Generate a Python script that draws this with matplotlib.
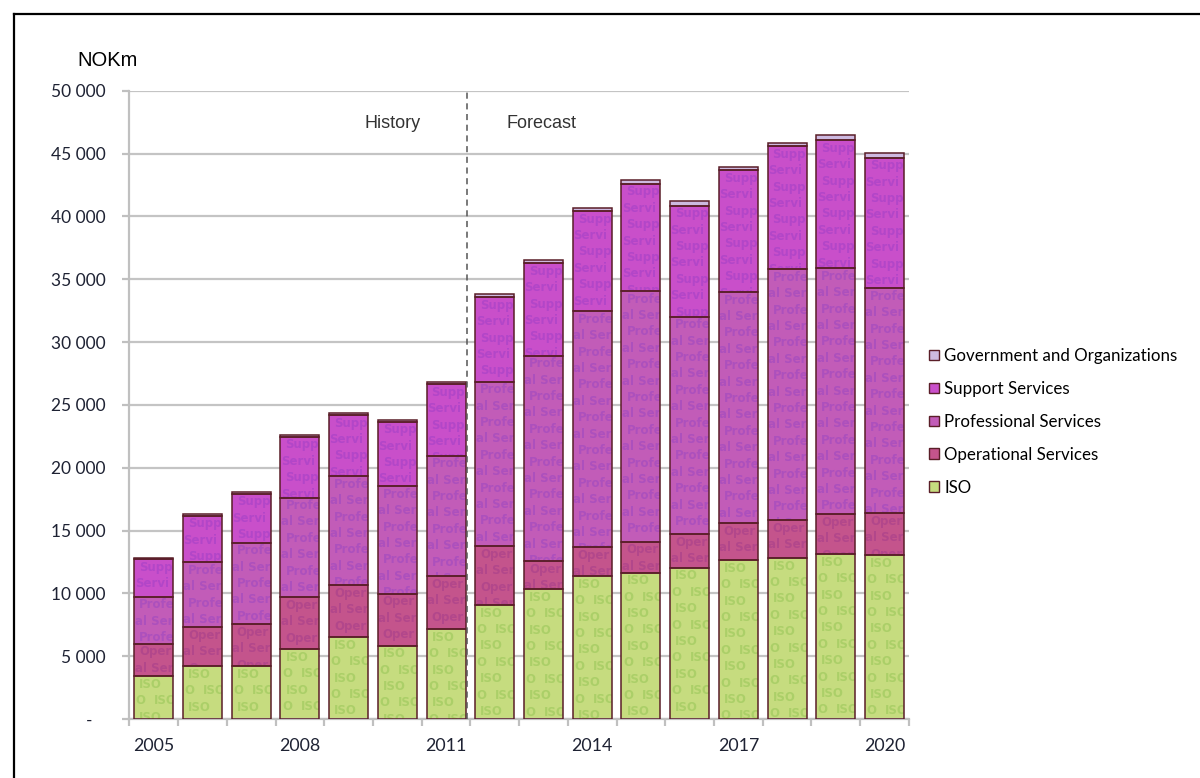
import matplotlib

matplotlib.use("Agg")
import matplotlib.pyplot as plt
from matplotlib.patches import Patch
from matplotlib.lines import Line2D

# NOK million per segment, 2005-2011 history, 2012-2020 forecast
years = list(range(2005, 2021))
iso = [3400, 4190, 4190, 5550, 6500, 5830, 7140, 9070, 10320, 11360, 11640, 12020, 12630, 12810, 13110, 13030]
operational = [2590, 3110, 3350, 4140, 4140, 4140, 4220, 4670, 2230, 2300, 2450, 2680, 2940, 3000, 3180, 3340]
professional = [3740, 5170, 6490, 7930, 8670, 8550, 9600, 13100, 16360, 18780, 19970, 17320, 18410, 19980, 19580, 17910]
support = [3000, 3690, 3880, 4830, 4880, 5140, 5680, 6720, 7350, 7980, 8520, 8830, 9680, 9790, 10190, 10390]
government = [100, 160, 160, 160, 160, 160, 180, 290, 290, 240, 320, 370, 260, 290, 400, 350]

series_names = ["ISO", "Operational Services", "Professional Services",
                "Support Services", "Government and Organizations"]
fills = ["#c6dc7f", "#c4548c", "#c25cb8", "#c94fca", "#cdb9e0"]
ink = ["#abcf68", "#b2478b", "#ac50bd", "#b246c8", "#bba6d6"]
# fragments of each series name tiled inside its segments:
# even rows, odd rows (word, offset in px from the bar's left edge)
tile_rows = [
    ([("ISO", 5)], [("O", 1.5), ("ISO", 20)]),
    ([("Oper", 5)], [("al Ser", 0.5)]),
    ([("Profe", 5)], [("al Ser", 0.5)]),
    ([("Supp", 5)], [("Servi", 0.5)]),
    ([("Gove", 5)], [("nt an", 0.5)]),
]
EDGE = "#5a1e28"

DPI = 100
fig = plt.figure(figsize=(12, 7.78), dpi=DPI)
ax = fig.add_axes([129.4 / 1200, 59 / 778, 779.4 / 1200, 628.3 / 778])

x = list(range(len(years)))
width = 0.8
ax.set_xlim(-0.5, len(years) - 0.5)
ax.set_ylim(0, 50000)

sx = 779.4 / len(years)          # pixels per category
sy = 628.3 / 50000               # pixels per NOKm

stack = [iso, operational, professional, support, government]
bottom = [0] * len(years)
for k, values in enumerate(stack):
    bars = ax.bar(x, values, bottom=bottom, width=width, color=fills[k],
                  edgecolor="none", zorder=2)
    even_row, odd_row = tile_rows[k]
    for i, rect in enumerate(bars):
        if values[i] * sy < 6:
            continue
        left = x[i] - width / 2
        yy = bottom[i] + values[i] - 8 / sy
        row = 0
        while yy > bottom[i] - 3 / sy:
            for word, off in (even_row if row % 2 == 0 else odd_row):
                t = ax.text(left + off / sx, yy, word, ha="left", va="center",
                            fontsize=8.5, fontweight="bold", family="DejaVu Sans",
                            color=ink[k], zorder=3, clip_on=True)
                t.set_clip_path(rect)
            yy -= 16.4 / sy
            row += 1
    ax.bar(x, values, bottom=bottom, width=width, fill=False,
           edgecolor=EDGE, linewidth=1.1, zorder=4)
    bottom = [b + v for b, v in zip(bottom, values)]

# axes styling
ax.set_axisbelow(True)
ax.yaxis.grid(True, color="#c4c4c4", linewidth=1.6)
for side in ("top", "right"):
    ax.spines[side].set_visible(False)
for side in ("left", "bottom"):
    ax.spines[side].set_color("#c0c0c0")
    ax.spines[side].set_linewidth(1.6)

yticks = list(range(0, 50001, 5000))
ylabels = ["-   "] + [f"{v // 1000} 000" for v in yticks[1:]]
ax.set_yticks(yticks)
ax.set_yticklabels(ylabels, family="Lato", fontsize=12.5, color="#1e2233")
ax.tick_params(axis="y", length=5, width=1.6, color="#c0c0c0", pad=12)

ax.set_xticks(x)
ax.set_xticklabels([str(y) if (y - 2005) % 3 == 0 else "" for y in years],
                   family="Lato", fontsize=12.8, color="#1e2233")
ax.set_xticks([i - 0.5 for i in range(len(years) + 1)], minor=True)
ax.tick_params(axis="x", which="major", length=0, pad=14)
ax.tick_params(axis="x", which="minor", length=5, width=1.6, color="#c0c0c0")

# history / forecast split
ax.axvline(6.43, color="#555555", linestyle=(0, (4, 3)), linewidth=1.1, zorder=5)
ax.text(4.91, 47400, "History", ha="center", va="center", fontsize=13,
        family="Liberation Sans", color="#333333")
ax.text(7.95, 47400, "Forecast", ha="center", va="center", fontsize=13,
        family="Liberation Sans", color="#333333")

fig.text(77 / 1200, 1 - 60 / 778, "NOKm", ha="left", va="center",
         fontsize=14.5, family="Liberation Sans", color="black")

handles = [Patch(facecolor=fills[k], edgecolor=EDGE, linewidth=1.0, label=series_names[k])
           for k in range(len(series_names) - 1, -1, -1)]
fig.legend(handles=handles, loc="upper left", bbox_to_anchor=(929 / 1200, 1 - 348 / 778),
           frameon=False, prop={"family": "Lato", "size": 12.2},
           handlelength=0.6, handleheight=0.6, handletextpad=0.3,
           labelspacing=1.0, borderaxespad=0, borderpad=0)

# outer frame
fig.add_artist(Line2D([14 / 1200, 14 / 1200], [-0.05, 1 - 14 / 778],
                      transform=fig.transFigure, color="black", linewidth=1.6))
fig.add_artist(Line2D([14 / 1200, 1.01], [1 - 14 / 778, 1 - 14 / 778],
                      transform=fig.transFigure, color="black", linewidth=1.6))

fig.savefig("out.png", dpi=DPI)
